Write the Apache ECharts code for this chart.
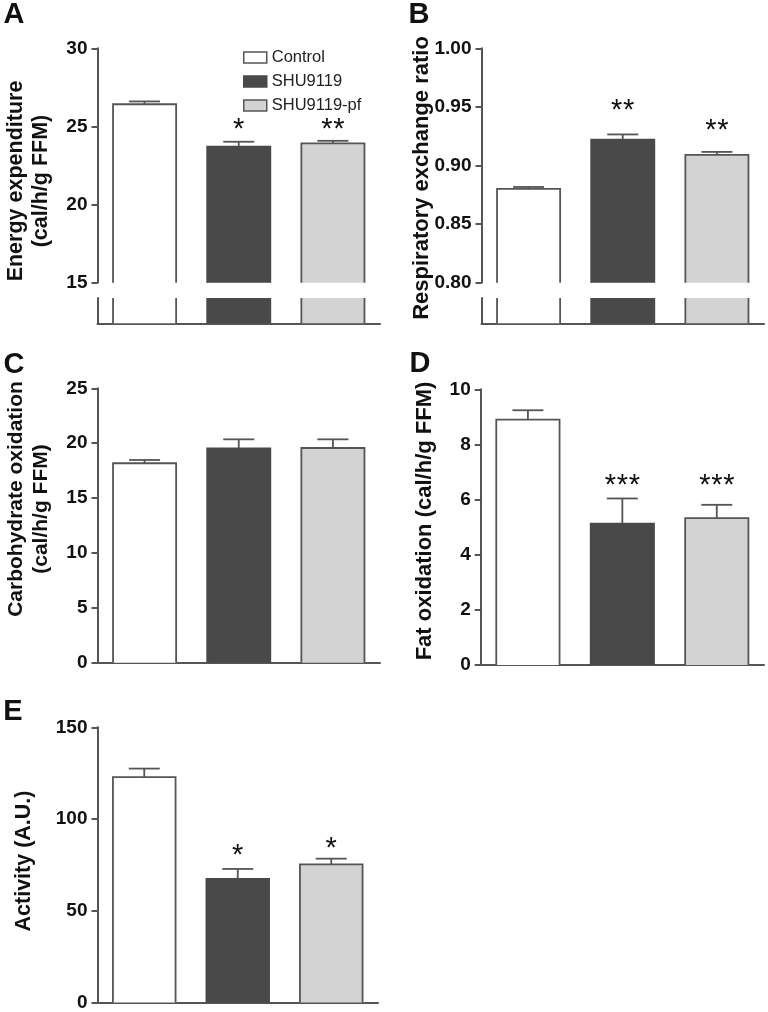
<!DOCTYPE html>
<html><head><meta charset="utf-8">
<script src="https://cdn.jsdelivr.net/npm/echarts@6/dist/echarts.min.js"></script>
<style>html,body{margin:0;padding:0;background:#fff}#c{width:768px;height:1012px}</style>
</head><body><div id="c"></div>
<script>
// ---- data ----
const groups = ['Control', 'SHU9119', 'SHU9119-pf'];

const energyMean = [26.42, 23.70, 23.92];
const energyErr = [0.18, 0.32, 0.16];
const energyStars = ['', '*', '**'];
const energyStarAt = [null, 25.2, 25.2];
const energyTicks = [15, 20, 25, 30];

const rerMean = [0.880, 0.922, 0.909];
const rerErr = [0.0017, 0.0045, 0.0026];
const rerStars = ['', '**', '**'];
const rerStarAt = [null, 0.9525, 0.9352];
const rerTicks = ['0.80', '0.85', '0.90', '0.95', '1.00'];

const choMean = [18.17, 19.53, 19.56];
const choErr = [0.3, 0.82, 0.79];
const choStars = ['', '', ''];
const choStarAt = [null, null, null];
const choTicks = [0, 5, 10, 15, 20, 25];

const fatMean = [8.9, 5.13, 5.33];
const fatErr = [0.34, 0.91, 0.48];
const fatStars = ['', '***', '***'];
const fatStarAt = [null, 6.76, 6.76];
const fatTicks = [0, 2, 4, 6, 8, 10];

const actMean = [122.8, 67.4, 75.3];
const actErr = [4.7, 5.4, 3.1];
const actStars = ['', '*', '*'];
const actStarAt = [null, 83.9, 87.3];
const actTicks = [0, 50, 100, 150];

// ---- styling / layout ----
const FONT = '"Liberation Sans", Arial, sans-serif';
const AX = '#555';
const fills = ['#ffffff', '#494949', '#d3d3d3'];
const strokes = ['#555', '#494949', '#555'];

const panels = [
  {mean: energyMean, err: energyErr, stars: energyStars, starAt: energyStarAt, ticks: energyTicks, dec: 0,
   left: 97.5, right: 380, top: 48.3, bottom: 282.7, lower: [298, 323.3]},
  {mean: rerMean, err: rerErr, stars: rerStars, starAt: rerStarAt, ticks: rerTicks, dec: 2,
   left: 481.5, right: 764, top: 48.3, bottom: 282.7, lower: [298, 323.3]},
  {mean: choMean, err: choErr, stars: choStars, starAt: choStarAt, ticks: choTicks, dec: 0,
   left: 97.5, right: 380, top: 388.3, bottom: 662.7},
  {mean: fatMean, err: fatErr, stars: fatStars, starAt: fatStarAt, ticks: fatTicks, dec: 0,
   left: 480.7, right: 764, top: 389.3, bottom: 665},
  {mean: actMean, err: actErr, stars: actStars, starAt: actStarAt, ticks: actTicks, dec: 0,
   left: 97.5, right: 378, top: 727.3, bottom: 1003.3}
];

const grid = [], xAxis = [], yAxis = [], series = [];

function makeRender(p, isLower) {
  return function (params, api) {
    const j = params.dataIndex;
    const cs = params.coordSys;
    const i = api.value(0), m = api.value(1);
    const c = api.coord([i, m]);
    const bw = api.size([1, 0])[0] * 0.67;
    const xl = c[0] - bw / 2, xr = c[0] + bw / 2;
    const yb = cs.y + cs.height;
    const clamped = c[1] < cs.y;
    const top = Math.max(c[1], cs.y);
    const ls = {stroke: strokes[j], lineWidth: 1.8, fill: null};
    const kids = [];
    if (clamped) {
      kids.push({type: 'line', shape: {x1: xl, y1: top, x2: xl, y2: yb}, style: ls});
      kids.push({type: 'line', shape: {x1: xr, y1: top, x2: xr, y2: yb}, style: ls});
    } else {
      kids.push({type: 'polyline', shape: {points: [[xl, yb], [xl, top], [xr, top], [xr, yb]]}, style: ls});
    }
    if (!isLower) {
      const e = p.err[j];
      const et = api.coord([i, m + e])[1];
      const es = {stroke: AX, lineWidth: 1.8};
      kids.push({type: 'line', shape: {x1: c[0], y1: top, x2: c[0], y2: et}, style: es});
      kids.push({type: 'line', shape: {x1: c[0] - 15.5, y1: et, x2: c[0] + 15.5, y2: et}, style: es});
      const s = p.stars[j];
      if (s && p.starAt[j] != null) {
        const sy = api.coord([i, p.starAt[j]])[1];
        const n = s.length, sp = 12;
        for (let k = 0; k < n; k++) {
          kids.push({type: 'text', style: {
            text: '*', x: c[0] + (k - (n - 1) / 2) * sp, y: sy + 7,
            align: 'center', verticalAlign: 'middle', textAlign: 'center', textVerticalAlign: 'middle',
            fontSize: 29, fontFamily: FONT, fill: '#111'}});
        }
      }
    }
    return {type: 'group', children: kids};
  };
}

function addGrid(p, top, bottom, opts) {
  const g = grid.length;
  grid.push({left: p.left, top: top, width: p.right - p.left, height: bottom - top, containLabel: false});
  xAxis.push({type: 'category', gridIndex: g, data: groups,
    axisLine: {show: opts.xLine, lineStyle: {color: AX, width: 2}},
    axisTick: {show: false}, axisLabel: {show: false}, splitLine: {show: false}});
  yAxis.push(Object.assign({type: 'value', gridIndex: g, splitLine: {show: false},
    axisLine: {show: true, onZero: false, lineStyle: {color: AX, width: 2}}}, opts.y));
  groups.forEach((name, k) => {
    series.push({type: 'bar', name: name, xAxisIndex: g, yAxisIndex: g,
      data: p.mean.map((v, j) => j === k ? v : '-'),
      barWidth: '67%', barGap: '-100%', silent: true, animation: false,
      itemStyle: {color: fills[k], borderWidth: 0}});
  });
  series.push({type: 'custom', xAxisIndex: g, yAxisIndex: g, silent: true, animation: false,
    data: p.mean.map((v, j) => [j, v]), renderItem: makeRender(p, opts.lower), z: 5});
}

panels.forEach(p => {
  const t = p.ticks.map(Number);
  const mn = t[0], mx = t[t.length - 1], iv = t[1] - t[0];
  const yMain = {min: mn, max: mx, interval: iv,
    axisTick: {show: true, length: 6, lineStyle: {color: AX, width: 2}},
    axisLabel: {show: true, margin: 10, fontSize: 19, fontWeight: 'bold', fontFamily: FONT, color: '#111',
      formatter: v => Number(v).toFixed(p.dec)}};
  if (p.lower) {
    addGrid(p, p.top, p.bottom, {xLine: false, y: yMain, lower: false});
    addGrid(p, p.lower[0], p.lower[1], {xLine: true, lower: true,
      y: {min: 0, max: mn, axisTick: {show: false}, axisLabel: {show: false}}});
  } else {
    addGrid(p, p.top, p.bottom, {xLine: true, y: yMain, lower: false});
  }
});

function txt(text, x, y, size, rot, weight) {
  return {type: 'text', x: x, y: y, rotation: rot || 0, silent: true,
    style: {text: text, fontSize: size, fontWeight: weight || 'bold', fontFamily: FONT, fill: '#111',
      align: 'center', verticalAlign: 'middle', textAlign: 'center', textVerticalAlign: 'middle'}};
}
const R = Math.PI / 2;
const graphic = [
  txt('A', 14, 15, 29), txt('B', 419, 15, 29), txt('C', 14, 365, 29), txt('D', 420, 364, 29), txt('E', 13, 712, 29),
  txt('Energy expenditure', 16, 181, 21.5, R), txt('(cal/h/g FFM)', 41, 181, 21.5, R),
  txt('Respiratory exchange ratio', 422, 178, 22, R),
  txt('Carbohydrate oxidation', 16, 499, 21, R), txt('(cal/h/g FFM)', 41, 509, 21, R),
  txt('Fat oxidation (cal/h/g FFM)', 425, 521, 22, R),
  txt('Activity (A.U.)', 24, 861, 21.5, R)
];

const chart = echarts.init(document.getElementById('c'), null, {renderer: 'canvas'});
chart.setOption({
  animation: false,
  backgroundColor: '#fff',
  grid, xAxis, yAxis, series, graphic,
  legend: {left: 238, top: 44, orient: 'vertical', itemWidth: 23, itemHeight: 11, itemGap: 7, itemTextGap: 12,
    selectedMode: false,
    textStyle: {fontSize: 16.5, color: '#222', fontFamily: FONT},
    data: groups.map((g, k) => ({name: g, icon: 'rect',
      itemStyle: {color: fills[k], borderColor: k === 1 ? '#494949' : '#555', borderWidth: 1.5}}))}
});
</script></body></html>
